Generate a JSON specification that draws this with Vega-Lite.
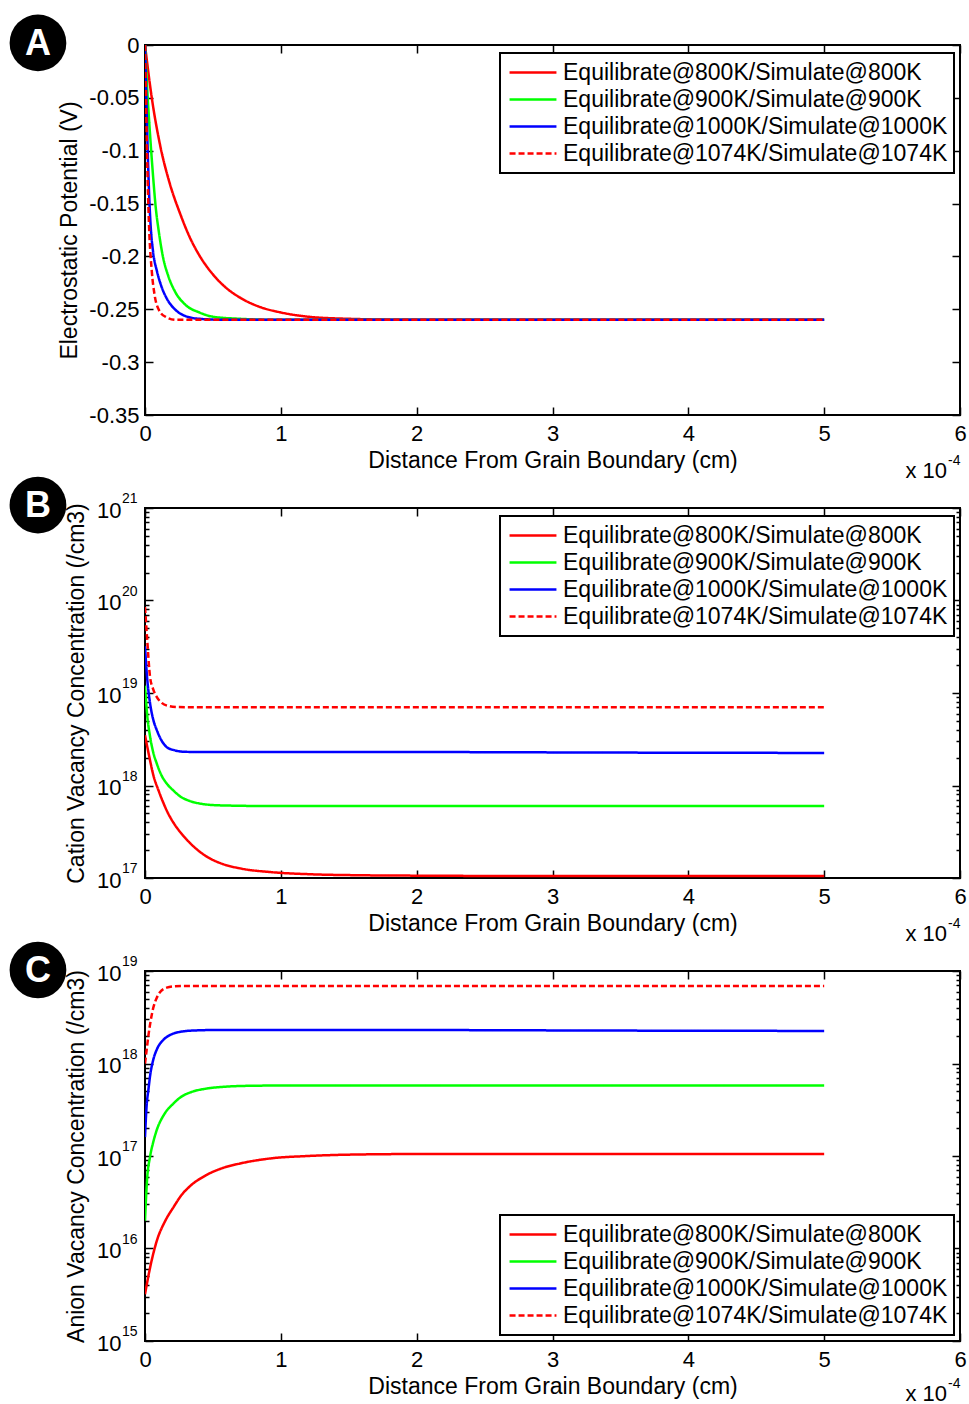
{
  "$schema": "https://vega.github.io/schema/vega-lite/v6.json",
  "background": "white",
  "padding": {"left": 8, "top": 13, "right": 6, "bottom": 5},
  "datasets": {
    "a": [
      {"x":0,"v":0,"s":"800K"},{"x":0.05,"v":-0.05,"s":"800K"},{"x":0.11,"v":-0.094,"s":"800K"},{"x":0.18,"v":-0.13,"s":"800K"},{"x":0.26,"v":-0.16,"s":"800K"},{"x":0.33,"v":-0.182,"s":"800K"},{"x":0.4,"v":-0.199,"s":"800K"},{"x":0.5,"v":-0.217,"s":"800K"},{"x":0.6,"v":-0.23,"s":"800K"},{"x":0.7,"v":-0.239,"s":"800K"},{"x":0.85,"v":-0.248,"s":"800K"},{"x":1.0,"v":-0.253,"s":"800K"},{"x":1.2,"v":-0.257,"s":"800K"},{"x":1.5,"v":-0.259,"s":"800K"},{"x":2,"v":-0.26,"s":"800K"},{"x":3,"v":-0.26,"s":"800K"},{"x":4,"v":-0.26,"s":"800K"},{"x":5,"v":-0.26,"s":"800K"},
      {"x":0,"v":0,"s":"900K"},{"x":0.02,"v":-0.05,"s":"900K"},{"x":0.04,"v":-0.09,"s":"900K"},{"x":0.06,"v":-0.125,"s":"900K"},{"x":0.08,"v":-0.155,"s":"900K"},{"x":0.1,"v":-0.175,"s":"900K"},{"x":0.13,"v":-0.199,"s":"900K"},{"x":0.17,"v":-0.218,"s":"900K"},{"x":0.22,"v":-0.233,"s":"900K"},{"x":0.3,"v":-0.246,"s":"900K"},{"x":0.4,"v":-0.253,"s":"900K"},{"x":0.5,"v":-0.257,"s":"900K"},{"x":0.7,"v":-0.259,"s":"900K"},{"x":1,"v":-0.26,"s":"900K"},{"x":2,"v":-0.26,"s":"900K"},{"x":3,"v":-0.26,"s":"900K"},{"x":4,"v":-0.26,"s":"900K"},{"x":5,"v":-0.26,"s":"900K"},
      {"x":0,"v":0,"s":"1000K"},{"x":0.01,"v":-0.05,"s":"1000K"},{"x":0.02,"v":-0.1,"s":"1000K"},{"x":0.03,"v":-0.14,"s":"1000K"},{"x":0.042,"v":-0.172,"s":"1000K"},{"x":0.06,"v":-0.196,"s":"1000K"},{"x":0.088,"v":-0.214,"s":"1000K"},{"x":0.12,"v":-0.228,"s":"1000K"},{"x":0.17,"v":-0.242,"s":"1000K"},{"x":0.22,"v":-0.25,"s":"1000K"},{"x":0.31,"v":-0.257,"s":"1000K"},{"x":0.4,"v":-0.259,"s":"1000K"},{"x":0.6,"v":-0.26,"s":"1000K"},{"x":1,"v":-0.26,"s":"1000K"},{"x":2,"v":-0.26,"s":"1000K"},{"x":3,"v":-0.26,"s":"1000K"},{"x":4,"v":-0.26,"s":"1000K"},{"x":5,"v":-0.26,"s":"1000K"},
      {"x":0,"v":0,"s":"1074K"},{"x":0.01,"v":-0.07,"s":"1074K"},{"x":0.02,"v":-0.13,"s":"1074K"},{"x":0.03,"v":-0.172,"s":"1074K"},{"x":0.05,"v":-0.214,"s":"1074K"},{"x":0.07,"v":-0.236,"s":"1074K"},{"x":0.1,"v":-0.25,"s":"1074K"},{"x":0.15,"v":-0.257,"s":"1074K"},{"x":0.23,"v":-0.26,"s":"1074K"},{"x":0.5,"v":-0.26,"s":"1074K"},{"x":1,"v":-0.26,"s":"1074K"},{"x":2,"v":-0.26,"s":"1074K"},{"x":3,"v":-0.26,"s":"1074K"},{"x":4,"v":-0.26,"s":"1074K"},{"x":5,"v":-0.26,"s":"1074K"}
    ],
    "b": [
      {"x":0,"v":3.5e18,"s":"800K"},{"x":0.03,"v":2.1e18,"s":"800K"},{"x":0.061,"v":1.3e18,"s":"800K"},{"x":0.1,"v":8.8e17,"s":"800K"},{"x":0.135,"v":6.5e17,"s":"800K"},{"x":0.17,"v":5e17,"s":"800K"},{"x":0.21,"v":3.95e17,"s":"800K"},{"x":0.27,"v":3e17,"s":"800K"},{"x":0.33,"v":2.4e17,"s":"800K"},{"x":0.45,"v":1.72e17,"s":"800K"},{"x":0.57,"v":1.42e17,"s":"800K"},{"x":0.7,"v":1.27e17,"s":"800K"},{"x":0.92,"v":1.16e17,"s":"800K"},{"x":1.2,"v":1.1e17,"s":"800K"},{"x":1.6,"v":1.07e17,"s":"800K"},{"x":2,"v":1.06e17,"s":"800K"},{"x":3,"v":1.05e17,"s":"800K"},{"x":4,"v":1.05e17,"s":"800K"},{"x":5,"v":1.05e17,"s":"800K"},
      {"x":0,"v":1.2e19,"s":"900K"},{"x":0.015,"v":6e18,"s":"900K"},{"x":0.037,"v":3.4e18,"s":"900K"},{"x":0.06,"v":2.3e18,"s":"900K"},{"x":0.086,"v":1.74e18,"s":"900K"},{"x":0.12,"v":1.3e18,"s":"900K"},{"x":0.16,"v":1.05e18,"s":"900K"},{"x":0.21,"v":8.8e17,"s":"900K"},{"x":0.26,"v":7.6e17,"s":"900K"},{"x":0.33,"v":6.8e17,"s":"900K"},{"x":0.4,"v":6.4e17,"s":"900K"},{"x":0.55,"v":6.1e17,"s":"900K"},{"x":0.92,"v":6e17,"s":"900K"},{"x":2,"v":6e17,"s":"900K"},{"x":3,"v":6e17,"s":"900K"},{"x":4,"v":6e17,"s":"900K"},{"x":5,"v":6e17,"s":"900K"},
      {"x":0,"v":3.2e19,"s":"1000K"},{"x":0.015,"v":1.5e19,"s":"1000K"},{"x":0.037,"v":7.8e18,"s":"1000K"},{"x":0.06,"v":5.2e18,"s":"1000K"},{"x":0.086,"v":4e18,"s":"1000K"},{"x":0.12,"v":3.1e18,"s":"1000K"},{"x":0.16,"v":2.6e18,"s":"1000K"},{"x":0.22,"v":2.4e18,"s":"1000K"},{"x":0.28,"v":2.32e18,"s":"1000K"},{"x":0.4,"v":2.3e18,"s":"1000K"},{"x":1,"v":2.3e18,"s":"1000K"},{"x":2,"v":2.3e18,"s":"1000K"},{"x":3,"v":2.28e18,"s":"1000K"},{"x":4,"v":2.26e18,"s":"1000K"},{"x":5,"v":2.25e18,"s":"1000K"},
      {"x":0,"v":8.5e19,"s":"1074K"},{"x":0.015,"v":4e19,"s":"1074K"},{"x":0.037,"v":1.5e19,"s":"1074K"},{"x":0.06,"v":1.1e19,"s":"1074K"},{"x":0.086,"v":9.1e18,"s":"1074K"},{"x":0.12,"v":7.9e18,"s":"1074K"},{"x":0.18,"v":7.2e18,"s":"1074K"},{"x":0.25,"v":7.05e18,"s":"1074K"},{"x":0.5,"v":7e18,"s":"1074K"},{"x":1,"v":7e18,"s":"1074K"},{"x":2,"v":7e18,"s":"1074K"},{"x":3,"v":7e18,"s":"1074K"},{"x":4,"v":7e18,"s":"1074K"},{"x":5,"v":7e18,"s":"1074K"}
    ],
    "c": [
      {"x":0,"v":3.2e15,"s":"800K"},{"x":0.03,"v":5.5e15,"s":"800K"},{"x":0.086,"v":1.2e16,"s":"800K"},{"x":0.15,"v":2e16,"s":"800K"},{"x":0.21,"v":2.8e16,"s":"800K"},{"x":0.27,"v":3.8e16,"s":"800K"},{"x":0.33,"v":4.7e16,"s":"800K"},{"x":0.45,"v":6.2e16,"s":"800K"},{"x":0.57,"v":7.4e16,"s":"800K"},{"x":0.7,"v":8.3e16,"s":"800K"},{"x":0.92,"v":9.4e16,"s":"800K"},{"x":1.2,"v":1e17,"s":"800K"},{"x":1.6,"v":1.04e17,"s":"800K"},{"x":2,"v":1.05e17,"s":"800K"},{"x":3,"v":1.05e17,"s":"800K"},{"x":4,"v":1.05e17,"s":"800K"},{"x":5,"v":1.05e17,"s":"800K"},
      {"x":0,"v":2e16,"s":"900K"},{"x":0.015,"v":5.5e16,"s":"900K"},{"x":0.037,"v":9.8e16,"s":"900K"},{"x":0.06,"v":1.4e17,"s":"900K"},{"x":0.086,"v":1.9e17,"s":"900K"},{"x":0.14,"v":2.8e17,"s":"900K"},{"x":0.21,"v":3.7e17,"s":"900K"},{"x":0.27,"v":4.4e17,"s":"900K"},{"x":0.33,"v":4.85e17,"s":"900K"},{"x":0.45,"v":5.35e17,"s":"900K"},{"x":0.58,"v":5.6e17,"s":"900K"},{"x":0.8,"v":5.75e17,"s":"900K"},{"x":1.2,"v":5.8e17,"s":"900K"},{"x":2,"v":5.8e17,"s":"900K"},{"x":3,"v":5.8e17,"s":"900K"},{"x":4,"v":5.8e17,"s":"900K"},{"x":5,"v":5.8e17,"s":"900K"},
      {"x":0,"v":1.6e17,"s":"1000K"},{"x":0.012,"v":3.5e17,"s":"1000K"},{"x":0.025,"v":5.2e17,"s":"1000K"},{"x":0.04,"v":7.8e17,"s":"1000K"},{"x":0.061,"v":1.1e18,"s":"1000K"},{"x":0.09,"v":1.45e18,"s":"1000K"},{"x":0.135,"v":1.8e18,"s":"1000K"},{"x":0.19,"v":2.05e18,"s":"1000K"},{"x":0.26,"v":2.2e18,"s":"1000K"},{"x":0.35,"v":2.27e18,"s":"1000K"},{"x":0.5,"v":2.3e18,"s":"1000K"},{"x":1,"v":2.3e18,"s":"1000K"},{"x":2,"v":2.3e18,"s":"1000K"},{"x":3,"v":2.28e18,"s":"1000K"},{"x":4,"v":2.26e18,"s":"1000K"},{"x":5,"v":2.25e18,"s":"1000K"},
      {"x":0,"v":1e18,"s":"1074K"},{"x":0.012,"v":1.4e18,"s":"1074K"},{"x":0.025,"v":2e18,"s":"1074K"},{"x":0.04,"v":2.8e18,"s":"1074K"},{"x":0.061,"v":4e18,"s":"1074K"},{"x":0.086,"v":5.1e18,"s":"1074K"},{"x":0.11,"v":5.9e18,"s":"1074K"},{"x":0.16,"v":6.6e18,"s":"1074K"},{"x":0.22,"v":6.85e18,"s":"1074K"},{"x":0.3,"v":6.9e18,"s":"1074K"},{"x":1,"v":6.9e18,"s":"1074K"},{"x":2,"v":6.9e18,"s":"1074K"},{"x":3,"v":6.9e18,"s":"1074K"},{"x":4,"v":6.9e18,"s":"1074K"},{"x":5,"v":6.9e18,"s":"1074K"}
    ]
  },
  "vconcat": [
    {
      "width": 815, "height": 370,
      "resolve": {"axis": {"x": "independent", "y": "independent"}},
      "layer": [
        {
          "data": {"name": "a"},
          "mark": {"type": "line", "strokeWidth": 2.5, "interpolate": "monotone", "clip": true},
          "encoding": {
            "x": {"field": "x", "type": "quantitative", "scale": {"domain": [0, 6], "nice": false}, "axis": {"orient": "bottom", "values": [0,1,2,3,4,5,6], "format": "d", "tickSize": -8, "labelPadding": 16, "title": "Distance From Grain Boundary (cm)", "titlePadding": 5}},
            "y": {"field": "v", "type": "quantitative", "scale": {"domain": [-0.35, 0], "nice": false, "zero": false}, "axis": {"orient": "left", "values": [0,-0.05,-0.1,-0.15,-0.2,-0.25,-0.3,-0.35], "labelExpr": "'' + datum.value", "tickSize": -8, "labelPadding": 14, "title": "Electrostatic Potential (V)", "titlePadding": 7}},
            "color": {"field": "s", "type": "nominal", "scale": {"domain": ["800K","900K","1000K","1074K"], "range": ["#ff0000","#00ff00","#0000ff","#ff0000"]}, "legend": {"title": null, "orient": "none", "legendX": 355, "legendY": 8, "labelExpr": "'Equilibrate@' + datum.label + '/Simulate@' + datum.label"}},
            "strokeDash": {"field": "s", "type": "nominal", "scale": {"domain": ["800K","900K","1000K","1074K"], "range": [[1,0],[1,0],[1,0],[6,3]]}, "legend": {"title": null, "orient": "none", "legendX": 355, "legendY": 8, "labelExpr": "'Equilibrate@' + datum.label + '/Simulate@' + datum.label"}}
          }
        },
        {
          "data": {"values": [{}]},
          "mark": {"type": "point", "opacity": 0},
          "encoding": {
            "x": {"datum": 0, "type": "quantitative", "axis": {"orient": "top", "values": [0,1,2,3,4,5,6], "labels": false, "tickSize": -8, "title": null}},
            "y": {"datum": 0, "type": "quantitative", "axis": {"orient": "right", "values": [0,-0.05,-0.1,-0.15,-0.2,-0.25,-0.3,-0.35], "labels": false, "tickSize": -8, "title": null}}
          }
        },
        {
          "data": {"values": [{"t": "x 10"}]},
          "mark": {"type": "text", "align": "right", "baseline": "middle", "fontSize": 22, "dy": 56, "dx": -13, "color": "black"},
          "encoding": {"x": {"datum": 6, "type": "quantitative", "axis": null}, "y": {"datum": -0.35, "type": "quantitative", "axis": null}, "text": {"field": "t"}}
        },
        {
          "data": {"values": [{"t": "-4"}]},
          "mark": {"type": "text", "align": "left", "baseline": "middle", "fontSize": 14, "dy": 46, "dx": -12, "color": "black"},
          "encoding": {"x": {"datum": 6, "type": "quantitative", "axis": null}, "y": {"datum": -0.35, "type": "quantitative", "axis": null}, "text": {"field": "t"}}
        },
        {
          "data": {"values": [{"t": "A"}]},
          "mark": {"type": "point", "filled": true, "color": "black", "opacity": 1, "size": 3217, "strokeWidth": 0},
          "encoding": {"x": {"datum": -0.788, "type": "quantitative", "axis": null}, "y": {"datum": 0.002, "type": "quantitative", "axis": null}}
        },
        {
          "data": {"values": [{"t": "A"}]},
          "mark": {"type": "text", "align": "center", "baseline": "middle", "fontSize": 36, "fontWeight": "bold", "color": "white", "dy": 1},
          "encoding": {"x": {"datum": -0.788, "type": "quantitative", "axis": null}, "y": {"datum": 0.002, "type": "quantitative", "axis": null}, "text": {"field": "t"}}
        }
      ]
    },
    {
      "width": 815, "height": 370,
      "resolve": {"axis": {"x": "independent", "y": "independent"}},
      "layer": [
        {
          "data": {"name": "b"},
          "mark": {"type": "line", "strokeWidth": 2.5, "interpolate": "monotone", "clip": true},
          "encoding": {
            "x": {"field": "x", "type": "quantitative", "scale": {"domain": [0, 6], "nice": false}, "axis": {"orient": "bottom", "values": [0,1,2,3,4,5,6], "format": "d", "tickSize": -8, "labelPadding": 16, "title": "Distance From Grain Boundary (cm)", "titlePadding": 5}},
            "y": {"field": "v", "type": "quantitative", "scale": {"type": "log", "domain": [1e17, 1e21], "nice": false}, "axis": {"orient": "left", "values": [1e17,2e17,3e17,4e17,5e17,6e17,7e17,8e17,9e17,1e18,2e18,3e18,4e18,5e18,6e18,7e18,8e18,9e18,1e19,2e19,3e19,4e19,5e19,6e19,7e19,8e19,9e19,1e20,2e20,3e20,4e20,5e20,6e20,7e20,8e20,9e20,1e21], "labelExpr": "(datum.value==1e17||datum.value==1e18||datum.value==1e19||datum.value==1e20||datum.value==1e21)?'10':''", "tickSize": {"condition": {"test": "datum.value==1e17||datum.value==1e18||datum.value==1e19||datum.value==1e20||datum.value==1e21", "value": -8}, "value": -4}, "labelPadding": 32, "labelOffset": 2, "title": "Cation Vacancy Concentration (/cm3)", "titlePadding": 8}},
            "color": {"field": "s", "type": "nominal", "scale": {"domain": ["800K","900K","1000K","1074K"], "range": ["#ff0000","#00ff00","#0000ff","#ff0000"]}, "legend": {"title": null, "orient": "none", "legendX": 355, "legendY": 8, "labelExpr": "'Equilibrate@' + datum.label + '/Simulate@' + datum.label"}},
            "strokeDash": {"field": "s", "type": "nominal", "scale": {"domain": ["800K","900K","1000K","1074K"], "range": [[1,0],[1,0],[1,0],[6,3]]}, "legend": {"title": null, "orient": "none", "legendX": 355, "legendY": 8, "labelExpr": "'Equilibrate@' + datum.label + '/Simulate@' + datum.label"}}
          }
        },
        {
          "data": {"values": [{}]},
          "mark": {"type": "point", "opacity": 0},
          "encoding": {
            "x": {"datum": 0, "type": "quantitative", "axis": {"orient": "top", "values": [0,1,2,3,4,5,6], "labels": false, "tickSize": -8, "title": null}},
            "y": {"datum": 1e19, "type": "quantitative", "axis": {"orient": "right", "values": [1e17,2e17,3e17,4e17,5e17,6e17,7e17,8e17,9e17,1e18,2e18,3e18,4e18,5e18,6e18,7e18,8e18,9e18,1e19,2e19,3e19,4e19,5e19,6e19,7e19,8e19,9e19,1e20,2e20,3e20,4e20,5e20,6e20,7e20,8e20,9e20,1e21], "labels": false, "tickSize": {"condition": {"test": "datum.value==1e17||datum.value==1e18||datum.value==1e19||datum.value==1e20||datum.value==1e21", "value": -8}, "value": -4}, "title": null}}
          }
        },
        {
          "data": {"values": [{"v": 1e17, "e": "17"}, {"v": 1e18, "e": "18"}, {"v": 1e19, "e": "19"}, {"v": 1e20, "e": "20"}, {"v": 1e21, "e": "21"}]},
          "mark": {"type": "text", "align": "left", "baseline": "middle", "fontSize": 14, "dx": -23, "dy": -9, "color": "black"},
          "encoding": {"x": {"datum": 0, "type": "quantitative", "axis": null}, "y": {"field": "v", "type": "quantitative", "axis": null}, "text": {"field": "e"}}
        },
        {
          "data": {"values": [{"t": "x 10"}]},
          "mark": {"type": "text", "align": "right", "baseline": "middle", "fontSize": 22, "dy": 56, "dx": -13, "color": "black"},
          "encoding": {"x": {"datum": 6, "type": "quantitative", "axis": null}, "y": {"datum": 1e17, "type": "quantitative", "axis": null}, "text": {"field": "t"}}
        },
        {
          "data": {"values": [{"t": "-4"}]},
          "mark": {"type": "text", "align": "left", "baseline": "middle", "fontSize": 14, "dy": 46, "dx": -12, "color": "black"},
          "encoding": {"x": {"datum": 6, "type": "quantitative", "axis": null}, "y": {"datum": 1e17, "type": "quantitative", "axis": null}, "text": {"field": "t"}}
        },
        {
          "data": {"values": [{"t": "B"}]},
          "mark": {"type": "point", "filled": true, "color": "black", "opacity": 1, "size": 3217, "strokeWidth": 0},
          "encoding": {"x": {"datum": -0.788, "type": "quantitative", "axis": null}, "y": {"datum": 1.077e21, "type": "quantitative", "axis": null}}
        },
        {
          "data": {"values": [{"t": "B"}]},
          "mark": {"type": "text", "align": "center", "baseline": "middle", "fontSize": 36, "fontWeight": "bold", "color": "white", "dy": 1},
          "encoding": {"x": {"datum": -0.788, "type": "quantitative", "axis": null}, "y": {"datum": 1.077e21, "type": "quantitative", "axis": null}, "text": {"field": "t"}}
        }
      ]
    },
    {
      "width": 815, "height": 370,
      "resolve": {"axis": {"x": "independent", "y": "independent"}},
      "layer": [
        {
          "data": {"name": "c"},
          "mark": {"type": "line", "strokeWidth": 2.5, "interpolate": "monotone", "clip": true},
          "encoding": {
            "x": {"field": "x", "type": "quantitative", "scale": {"domain": [0, 6], "nice": false}, "axis": {"orient": "bottom", "values": [0,1,2,3,4,5,6], "format": "d", "tickSize": -8, "labelPadding": 16, "title": "Distance From Grain Boundary (cm)", "titlePadding": 5}},
            "y": {"field": "v", "type": "quantitative", "scale": {"type": "log", "domain": [1e15, 1e19], "nice": false}, "axis": {"orient": "left", "values": [1e15,2e15,3e15,4e15,5e15,6e15,7e15,8e15,9e15,1e16,2e16,3e16,4e16,5e16,6e16,7e16,8e16,9e16,1e17,2e17,3e17,4e17,5e17,6e17,7e17,8e17,9e17,1e18,2e18,3e18,4e18,5e18,6e18,7e18,8e18,9e18,1e19], "labelExpr": "(datum.value==1e15||datum.value==1e16||datum.value==1e17||datum.value==1e18||datum.value==1e19)?'10':''", "tickSize": {"condition": {"test": "datum.value==1e15||datum.value==1e16||datum.value==1e17||datum.value==1e18||datum.value==1e19", "value": -8}, "value": -4}, "labelPadding": 32, "labelOffset": 2, "title": "Anion Vacancy Concentration (/cm3)", "titlePadding": 8}},
            "color": {"field": "s", "type": "nominal", "scale": {"domain": ["800K","900K","1000K","1074K"], "range": ["#ff0000","#00ff00","#0000ff","#ff0000"]}, "legend": {"title": null, "orient": "none", "legendX": 355, "legendY": 244, "labelExpr": "'Equilibrate@' + datum.label + '/Simulate@' + datum.label"}},
            "strokeDash": {"field": "s", "type": "nominal", "scale": {"domain": ["800K","900K","1000K","1074K"], "range": [[1,0],[1,0],[1,0],[6,3]]}, "legend": {"title": null, "orient": "none", "legendX": 355, "legendY": 244, "labelExpr": "'Equilibrate@' + datum.label + '/Simulate@' + datum.label"}}
          }
        },
        {
          "data": {"values": [{}]},
          "mark": {"type": "point", "opacity": 0},
          "encoding": {
            "x": {"datum": 0, "type": "quantitative", "axis": {"orient": "top", "values": [0,1,2,3,4,5,6], "labels": false, "tickSize": -8, "title": null}},
            "y": {"datum": 1e17, "type": "quantitative", "axis": {"orient": "right", "values": [1e15,2e15,3e15,4e15,5e15,6e15,7e15,8e15,9e15,1e16,2e16,3e16,4e16,5e16,6e16,7e16,8e16,9e16,1e17,2e17,3e17,4e17,5e17,6e17,7e17,8e17,9e17,1e18,2e18,3e18,4e18,5e18,6e18,7e18,8e18,9e18,1e19], "labels": false, "tickSize": {"condition": {"test": "datum.value==1e15||datum.value==1e16||datum.value==1e17||datum.value==1e18||datum.value==1e19", "value": -8}, "value": -4}, "title": null}}
          }
        },
        {
          "data": {"values": [{"v": 1e15, "e": "15"}, {"v": 1e16, "e": "16"}, {"v": 1e17, "e": "17"}, {"v": 1e18, "e": "18"}, {"v": 1e19, "e": "19"}]},
          "mark": {"type": "text", "align": "left", "baseline": "middle", "fontSize": 14, "dx": -23, "dy": -9, "color": "black"},
          "encoding": {"x": {"datum": 0, "type": "quantitative", "axis": null}, "y": {"field": "v", "type": "quantitative", "axis": null}, "text": {"field": "e"}}
        },
        {
          "data": {"values": [{"t": "x 10"}]},
          "mark": {"type": "text", "align": "right", "baseline": "middle", "fontSize": 22, "dy": 53, "dx": -13, "color": "black"},
          "encoding": {"x": {"datum": 6, "type": "quantitative", "axis": null}, "y": {"datum": 1e15, "type": "quantitative", "axis": null}, "text": {"field": "t"}}
        },
        {
          "data": {"values": [{"t": "-4"}]},
          "mark": {"type": "text", "align": "left", "baseline": "middle", "fontSize": 14, "dy": 43, "dx": -12, "color": "black"},
          "encoding": {"x": {"datum": 6, "type": "quantitative", "axis": null}, "y": {"datum": 1e15, "type": "quantitative", "axis": null}, "text": {"field": "t"}}
        },
        {
          "data": {"values": [{"t": "C"}]},
          "mark": {"type": "point", "filled": true, "color": "black", "opacity": 1, "size": 3217, "strokeWidth": 0},
          "encoding": {"x": {"datum": -0.788, "type": "quantitative", "axis": null}, "y": {"datum": 1.025e19, "type": "quantitative", "axis": null}}
        },
        {
          "data": {"values": [{"t": "C"}]},
          "mark": {"type": "text", "align": "center", "baseline": "middle", "fontSize": 36, "fontWeight": "bold", "color": "white", "dy": 1},
          "encoding": {"x": {"datum": -0.788, "type": "quantitative", "axis": null}, "y": {"datum": 1.025e19, "type": "quantitative", "axis": null}, "text": {"field": "t"}}
        }
      ]
    }
  ],
  "spacing": 93,
  "bounds": "flush",
  "resolve": {"legend": {"color": "independent", "strokeDash": "independent"}},
  "config": {
    "font": "Liberation Sans",
    "view": {"stroke": "black", "strokeWidth": 2},
    "axis": {"grid": false, "domain": false, "labelFlush": false, "labelOverlap": false, "labelFont": "Liberation Sans", "labelFontSize": 22, "labelColor": "black", "titleFont": "Liberation Sans", "titleFontSize": 23, "titleFontWeight": "normal", "titleColor": "black", "tickColor": "black", "tickWidth": 1.5},
    "legend": {"strokeColor": "black", "strokeWidth": 2, "fillColor": "white", "padding": 6, "clipHeight": 27, "labelFont": "Liberation Sans", "labelFontSize": 23, "labelColor": "black", "symbolType": "stroke", "symbolSize": 2200, "symbolStrokeWidth": 2.5, "symbolOffset": 2, "rowPadding": 0, "labelOffset": 5, "labelLimit": 600}
  }
}
